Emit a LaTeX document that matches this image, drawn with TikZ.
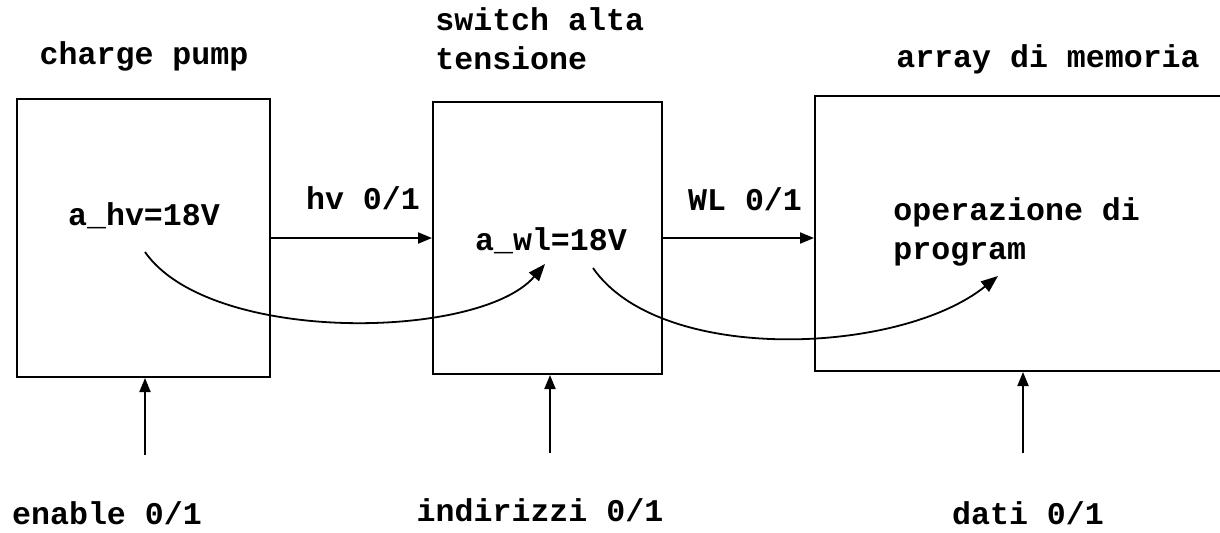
\documentclass[tikz,border=0pt]{standalone}
\usepackage{fontspec}
\setmainfont{Liberation Mono}
\usetikzlibrary{arrows.meta, positioning}

\begin{document}
\begin{tikzpicture}[
    x=0.5pt, y=-0.5pt,
    blk/.style={draw, line width=1pt, inner sep=0pt},
    lbl/.style={font=\fontsize{15.8}{19.5}\selectfont\bfseries, inner sep=0pt},
    arr/.style={-{Triangle[length=7pt, width=5.5pt]}, line width=1pt},
    curvarr/.style={-{Triangle[length=8.5pt, width=6.5pt]}, line width=0.9pt}
  ]
    \path[use as bounding box] (0,0) rectangle (1220,532);
    \clip (0,0) rectangle (1220,532);

    % blocchi
    \node[blk, minimum width=126.5pt, minimum height=139pt] (cp) at (143.5,238) {};
    \node[blk, minimum width=114.5pt, minimum height=136pt] (sw) at (547.5,238) {};
    \node[blk, minimum width=212pt, minimum height=137.5pt] (ar) at (1027,233.5) {};

    % titoli
    \node[lbl, anchor=base] (tcp) at (144,64) {charge pump};
    \node[lbl, anchor=west, align=left] (tsw) at (435,39) {switch alta\\tensione};
    \node[lbl, anchor=base] (tar) at (1048,67) {array di memoria};

    % testi interni
    \node[lbl, anchor=base] (ahv) at (144,225) {a\_hv=18V};
    \node[lbl, anchor=base] (awl) at (551,250) {a\_wl=18V};
    \node[lbl, anchor=west, align=left] (op) at (893,232) {operazione di\\program};

    % segnali
    \node[lbl, anchor=base] (hv) at (363,209) {hv 0/1};
    \node[lbl, anchor=base] (wl) at (745,210) {WL 0/1};
    \node[lbl, anchor=base] (en) at (107,524) {enable 0/1};
    \node[lbl, anchor=base] (ind) at (540,521) {indirizzi 0/1};
    \node[lbl, anchor=base] (dat) at (1028,524) {dati 0/1};

    \coordinate (enS) at (145,455);
    \coordinate (indS) at (550,453);
    \coordinate (datS) at (1023,453);

    \draw[arr] (cp.east) -- (sw.west);
    \draw[arr] (sw.east) -- (sw.east -| ar.west);
    \draw[arr] (enS) -- (enS |- cp.south);
    \draw[arr] (indS) -- (indS |- sw.south);
    \draw[arr] (datS) -- (datS |- ar.south);

    % percorso della tensione
    \coordinate (c1a) at (145,252);
    \coordinate (c1b) at (545,264);
    \coordinate (c2a) at (593,268);
    \coordinate (c2b) at (998,276);
    \draw[curvarr] (c1a) .. controls (210,345) and (480,340) .. (c1b);
    \draw[curvarr] (c2a) .. controls (660,365) and (900,355) .. (c2b);
  \end{tikzpicture}
\end{document}
